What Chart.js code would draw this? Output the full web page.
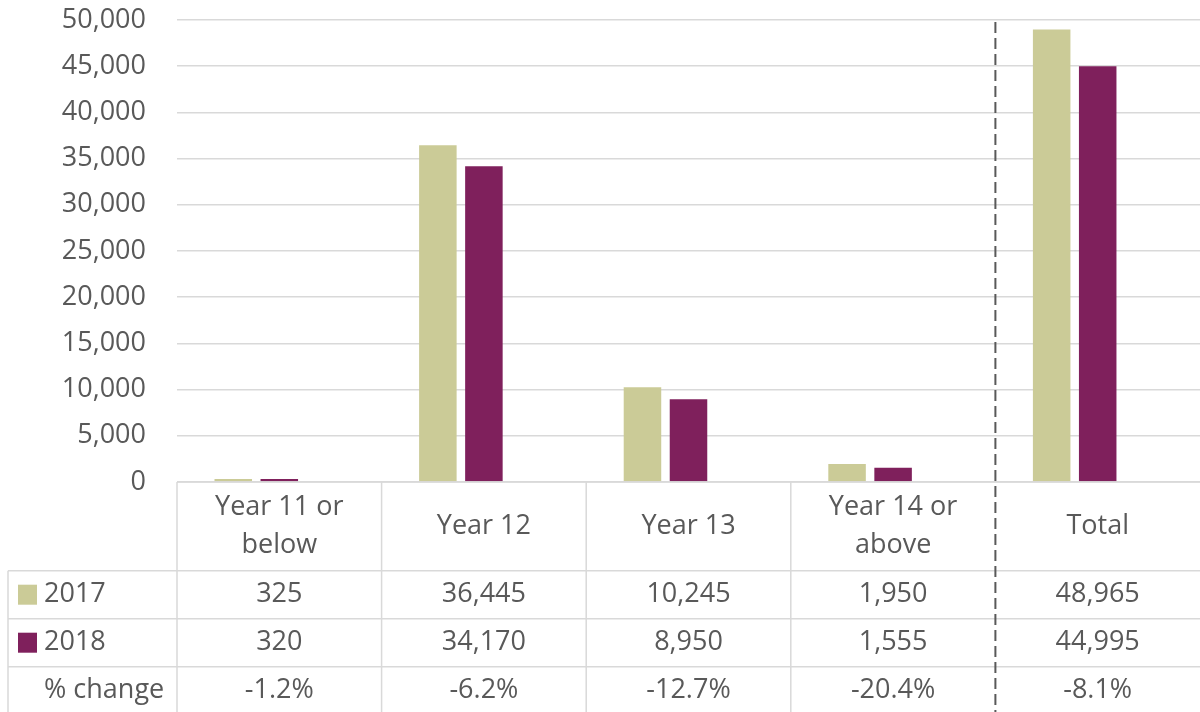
<!DOCTYPE html>
<html><head><meta charset="utf-8">
<script src="https://cdn.jsdelivr.net/npm/chart.js@4"></script>
<style>html,body{margin:0;padding:0;background:#fff}canvas{display:block}</style>
</head><body>
<canvas id="c" width="1200" height="712"></canvas>
<script>
// ---- data ----
const categories = [["Year 11 or","below"],["Year 12"],["Year 13"],["Year 14 or","above"],["Total"]];
const seriesNames = ["2017","2018","% change"];
const values2017 = [325,36445,10245,1950,48965];
const values2018 = [320,34170,8950,1555,44995];
const pctChange = [-1.2,-6.2,-12.7,-20.4,-8.1];
const yMin = 0, yMax = 50000, yStep = 5000;

// ---- style ----
const FONT = "'Open Sans', 'Noto Sans', sans-serif";
const FSIZE = 27;
const TXT = '#595959';
const GRID = '#d9d9d9';
const C2017 = '#cbcb97';
const C2018 = '#7f205c';
const DIVIDER_AFTER = 3; // dashed line after this category index

const fmt = v => v.toLocaleString('en-US');

const tablePlugin = {
  id: 'dataTable',
  afterDraw(chart) {
    const ctx = chart.ctx, xs = chart.scales.x, area = chart.chartArea;
    const n = categories.length;
    const catW = (xs.right - xs.left) / n;
    const edge = i => xs.getPixelForValue(0) - catW / 2 + i * catW;
    const top = area.bottom;
    const hdrH = 88.7, rowH = 48;
    const r1 = top + hdrH, r2 = r1 + rowH, r3 = r2 + rowH;
    const legendLeft = 8;
    const H = chart.height;
    ctx.save();
    ctx.strokeStyle = GRID; ctx.lineWidth = 1.5;
    ctx.beginPath();
    ctx.moveTo(area.left, top); ctx.lineTo(chart.width, top);
    [r1, r2, r3].forEach(y => { ctx.moveTo(legendLeft, y); ctx.lineTo(chart.width, y); });
    ctx.moveTo(legendLeft, r1); ctx.lineTo(legendLeft, H);
    for (let i = 0; i < n; i++) {
      if (i === DIVIDER_AFTER + 1) continue;
      const x = edge(i);
      ctx.moveTo(x, top); ctx.lineTo(x, H);
    }
    ctx.stroke();

    ctx.fillStyle = TXT;
    ctx.font = FSIZE + 'px ' + FONT;
    ctx.textAlign = 'center'; ctx.textBaseline = 'middle';
    const lh = 38;
    for (let i = 0; i < n; i++) {
      const cx = edge(i) + catW / 2;
      const lines = categories[i];
      const cy = top + hdrH / 2;
      lines.forEach((t, k) => ctx.fillText(t, cx, cy + (k - (lines.length - 1) / 2) * lh));
      ctx.fillText(fmt(values2017[i]), cx, r1 + rowH / 2);
      ctx.fillText(fmt(values2018[i]), cx, r2 + rowH / 2);
      ctx.fillText(pctChange[i].toFixed(1) + '%', cx, r3 + rowH / 2);
    }
    // legend column
    ctx.textAlign = 'left';
    ctx.fillStyle = C2017; ctx.fillRect(18, r1 + rowH / 2 - 10, 19, 20);
    ctx.fillStyle = C2018; ctx.fillRect(18, r2 + rowH / 2 - 10, 19, 20);
    ctx.fillStyle = TXT;
    ctx.fillText(seriesNames[0], 44, r1 + rowH / 2);
    ctx.fillText(seriesNames[1], 44, r2 + rowH / 2);
    ctx.fillText(seriesNames[2], 44, r3 + rowH / 2);

    // dashed divider
    const dx = edge(DIVIDER_AFTER + 1);
    ctx.strokeStyle = '#595959'; ctx.lineWidth = 2;
    ctx.setLineDash([11, 5]);
    ctx.beginPath(); ctx.moveTo(dx, area.top + 2); ctx.lineTo(dx, H); ctx.stroke();
    ctx.restore();
  }
};

new Chart(document.getElementById('c'), {
  type: 'bar',
  data: {
    labels: categories,
    datasets: [
      { label: seriesNames[0], data: values2017, backgroundColor: C2017 },
      { label: seriesNames[1], data: values2018, backgroundColor: C2018 },
      { label: seriesNames[2], data: pctChange, backgroundColor: 'rgba(0,0,0,0)' }
    ]
  },
  options: {
    responsive: false,
    animation: false,
    layout: { padding: { top: 20, bottom: 230, left: 0, right: 0 } },
    datasets: { bar: { categoryPercentage: 0.675, barPercentage: 0.815 } },
    plugins: { legend: { display: false }, tooltip: { enabled: false } },
    scales: {
      x: { display: false },
      y: {
        min: yMin, max: yMax,
        ticks: { stepSize: yStep, padding: 31, color: TXT, font: { family: FONT, size: FSIZE }, callback: v => fmt(v) },
        grid: { color: GRID, lineWidth: 1.5, drawTicks: false },
        border: { display: false },
        afterFit: s => { s.width = 177; s.paddingTop = 0; s.paddingBottom = 0; }
      }
    }
  },
  plugins: [tablePlugin]
});
</script>
</body></html>
